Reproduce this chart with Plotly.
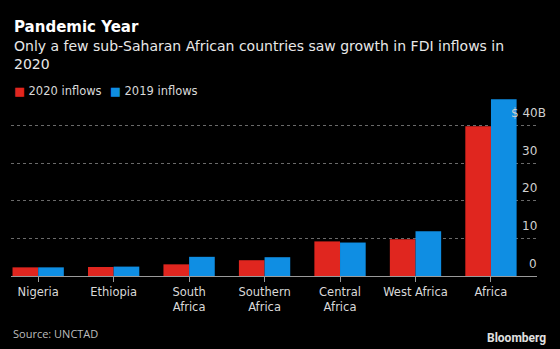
import plotly.graph_objects as go

categories = ["Nigeria", "Ethiopia", "South<br>Africa", "Southern<br>Africa",
              "Central<br>Africa", "West Africa", "Africa"]
inflows_2020 = [2.3, 2.4, 3.1, 4.2, 9.2, 9.8, 39.8]
inflows_2019 = [2.3, 2.5, 5.1, 5.0, 8.9, 11.9, 47.0]
series_names = ["2020 inflows", "2019 inflows"]
y_tickvals = [0, 10, 20, 30, 40]
y_ticktext = ["0", "10", "20", "30", "$ 40B"]

FONT = "DejaVu Sans"
RED = "#e0261f"
BLUE = "#0f8ee3"

# plot-area geometry in pixels (for placing header/footer text)
L, R, T, B = 11, 537, 88, 276
W, H = 560, 349


def px(x):
    return (x - L) / (R - L)


def py(y):
    return (B - y) / (B - T)


xpos = list(range(len(categories)))

fig = go.Figure()
for name, vals, col in [(series_names[0], inflows_2020, RED),
                        (series_names[1], inflows_2019, BLUE)]:
    fig.add_trace(go.Bar(x=xpos, y=vals, name=name, showlegend=False,
                         marker=dict(color=col, line=dict(width=0))))

fig.update_layout(
    width=W, height=H,
    margin=dict(l=L, r=W - R, t=T, b=H - B),
    paper_bgcolor="#000000", plot_bgcolor="#000000",
    font=dict(family=FONT, color="#d9d9d9", size=12),
    barmode="group", bargap=0.32, bargroupgap=0,
    showlegend=False,
    xaxis=dict(range=[-0.36, 6.61], tickmode="array", tickvals=xpos,
               ticktext=categories, showgrid=False, zeroline=False,
               showline=True, linecolor="#9a9a9a", linewidth=1,
               ticks="outside", ticklen=5, tickcolor="#9a9a9a",
               tickfont=dict(size=11.5, color="#d9d9d9"), fixedrange=True),
    yaxis=dict(range=[0, 50], side="right", tickmode="array",
               tickvals=y_tickvals, showticklabels=False, showgrid=True,
               gridcolor="#6a6a6a", griddash="dot", gridwidth=1,
               zeroline=False, showline=False, ticks="", fixedrange=True),
)

# y-axis labels sitting above their gridlines
for v, t in zip(y_tickvals, y_ticktext):
    fig.add_annotation(text=t, xref="paper", yref="y",
                       x=px(548) if t.endswith("B") else px(538.5), y=v,
                       xanchor="right", yanchor="middle", yshift=12.5,
                       showarrow=False,
                       font=dict(size=12, color="#d0d0d0"))

# legend swatches + labels
for i, (name, col) in enumerate(zip(series_names, [RED, BLUE])):
    fig.add_annotation(text=f"<span style='color:{col}'>■</span> {name}",
                       xref="paper", yref="paper", x=px(12 + 96 * i),
                       y=py(91), xanchor="left", yanchor="middle",
                       showarrow=False,
                       font=dict(size=11.5, color="#d9d9d9"))

fig.add_annotation(text="<b>Pandemic Year</b>", xref="paper", yref="paper",
                   x=px(12), y=py(27.5), xanchor="left", yanchor="middle",
                   showarrow=False, font=dict(size=15, color="#ffffff"))
fig.add_annotation(text="Only a few sub-Saharan African countries saw growth in FDI inflows in<br>2020",
                   xref="paper", yref="paper", x=px(12), y=py(55),
                   xanchor="left", yanchor="middle", align="left",
                   showarrow=False, font=dict(size=14, color="#e8e8e8"))
fig.add_annotation(text="Source: UNCTAD", xref="paper", yref="paper",
                   x=px(11), y=py(333.5), xanchor="left", yanchor="middle",
                   showarrow=False, font=dict(size=11, color="#bdbdbd",
                                              family="Open Sans"))
fig.add_annotation(text="<b>Bloomberg</b>", xref="paper", yref="paper",
                   x=px(548), y=py(337.7), xanchor="right", yanchor="middle",
                   showarrow=False, font=dict(size=12, color="#e0e0e0",
                                              family="Roboto"))

fig.write_html("out.html")
